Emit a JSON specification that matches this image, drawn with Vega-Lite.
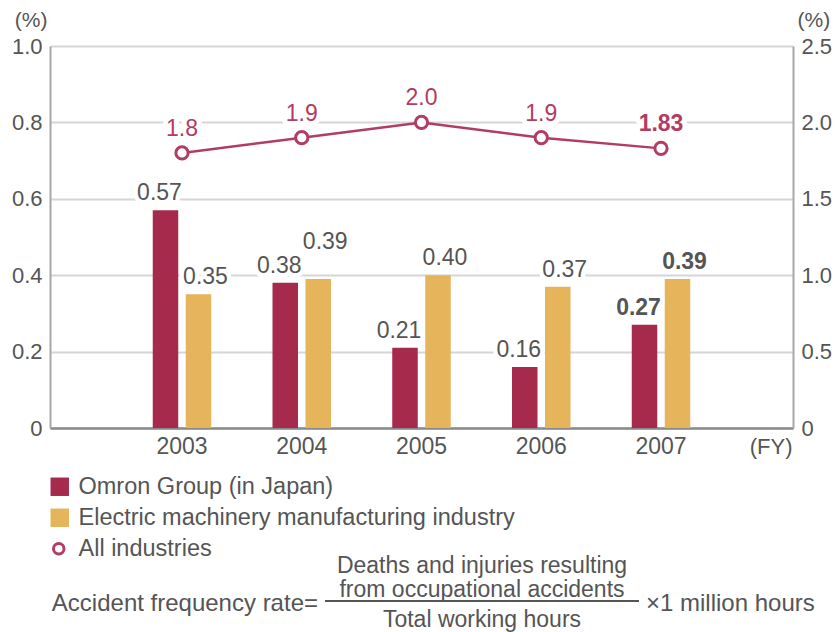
{
  "$schema": "https://vega.github.io/schema/vega-lite/v6.json",
  "background": "white",
  "padding": {"left": 11, "top": 9, "right": 2, "bottom": 2},
  "config": {
    "view": {"stroke": null},
    "font": "Liberation Sans",
    "text": {"font": "Liberation Sans"}
  },
  "datasets": {
    "bars": [
      {"year": "2003", "series": "Omron Group (in Japan)", "value": 0.57},
      {"year": "2003", "series": "Electric machinery manufacturing industry", "value": 0.35},
      {"year": "2004", "series": "Omron Group (in Japan)", "value": 0.38},
      {"year": "2004", "series": "Electric machinery manufacturing industry", "value": 0.39},
      {"year": "2005", "series": "Omron Group (in Japan)", "value": 0.21},
      {"year": "2005", "series": "Electric machinery manufacturing industry", "value": 0.40},
      {"year": "2006", "series": "Omron Group (in Japan)", "value": 0.16},
      {"year": "2006", "series": "Electric machinery manufacturing industry", "value": 0.37},
      {"year": "2007", "series": "Omron Group (in Japan)", "value": 0.27},
      {"year": "2007", "series": "Electric machinery manufacturing industry", "value": 0.39}
    ],
    "line": [
      {"year": "2003", "series": "All industries", "value": 1.8, "label": "1.8"},
      {"year": "2004", "series": "All industries", "value": 1.9, "label": "1.9"},
      {"year": "2005", "series": "All industries", "value": 2.0, "label": "2.0"},
      {"year": "2006", "series": "All industries", "value": 1.9, "label": "1.9"},
      {"year": "2007", "series": "All industries", "value": 1.83, "label": "1.83"}
    ],
    "formula": [
      {"col": "lhs", "part": "lhs", "text": "Accident frequency rate="},
      {"col": "frac", "part": "num", "text": "Deaths and injuries resulting\nfrom occupational accidents"},
      {"col": "frac", "part": "bar", "text": ""},
      {"col": "frac", "part": "den", "text": "Total working hours"},
      {"col": "rhs", "part": "rhs", "text": "×1 million hours"}
    ]
  },
  "vconcat": [
    {
      "width": 743,
      "height": 382,
      "layer": [
        {
          "data": {"name": "bars"},
          "encoding": {
            "x": {
              "field": "year", "type": "nominal",
              "scale": {"paddingInner": 0.5115, "paddingOuter": 0.858},
              "axis": {
                "title": "(FY)", "titleX": 742, "titleY": 18, "titleAlign": "right", "titleAnchor": null,
                "titleBaseline": "middle", "titleFontSize": 22, "titleFontWeight": "normal", "titleColor": "#555",
                "labelFontSize": 23, "labelColor": "#555", "labelAngle": 0, "labelPadding": 7,
                "ticks": false, "domainColor": "#8a8a8a", "domainWidth": 2.5, "grid": false
              }
            },
            "xOffset": {
              "field": "series", "type": "nominal",
              "scale": {"domain": ["Omron Group (in Japan)", "Electric machinery manufacturing industry"], "paddingInner": 0.227}
            },
            "y": {
              "field": "value", "type": "quantitative",
              "scale": {"domain": [0, 1], "nice": false},
              "axis": {
                "title": "(%)", "titleAngle": 0, "titleX": -3, "titleY": -26, "titleAlign": "right",
                "titleBaseline": "middle", "titleFontSize": 21, "titleFontWeight": "normal", "titleColor": "#555",
                "values": [0, 0.2, 0.4, 0.6, 0.8, 1.0],
                "labelExpr": "datum.value === 0 ? '0' : format(datum.value, '.1f')",
                "labelFontSize": 22, "labelColor": "#555", "labelPadding": 8,
                "ticks": false, "domainColor": "#a8a8a8", "domainWidth": 2,
                "grid": true, "gridColor": "#d6d6d6", "gridWidth": 2
              }
            }
          },
          "layer": [
            {
              "mark": {"type": "bar"},
              "encoding": {
                "color": {
                  "field": "series", "type": "nominal",
                  "scale": {
                    "domain": ["Omron Group (in Japan)", "Electric machinery manufacturing industry"],
                    "range": ["#A52A4B", "#E6B45A"]
                  },
                  "legend": {
                    "title": null, "orient": "none", "legendX": -2, "legendY": 429, "direction": "vertical",
                    "labelFontSize": 23.5, "labelColor": "#555", "labelFont": "Liberation Sans", "labelLimit": 800,
                    "labelOffset": 7, "rowPadding": 6, "padding": 0, "symbolType": "square", "symbolSize": 340,
                    "symbolStrokeWidth": 0
                  }
                }
              }
            },
            {
              "mark": {
                "type": "text", "fontSize": 23, "baseline": "middle", "stroke": "white", "strokeWidth": 9,
                "strokeJoin": "round", "fill": "white",
                "dx": {"expr": "datum.series === 'Omron Group (in Japan)' ? -6 : 7"},
                "dy": {"expr": "(datum.year === '2004' && datum.series !== 'Omron Group (in Japan)') ? -37 : -17"},
                "fontWeight": {"expr": "datum.year === '2007' ? 'bold' : 'normal'"}
              },
              "encoding": {"text": {"field": "value", "type": "quantitative", "format": ".2f"}}
            },
            {
              "mark": {
                "type": "text", "fontSize": 23, "baseline": "middle", "fill": "#555",
                "dx": {"expr": "datum.series === 'Omron Group (in Japan)' ? -6 : 7"},
                "dy": {"expr": "(datum.year === '2004' && datum.series !== 'Omron Group (in Japan)') ? -37 : -17"},
                "fontWeight": {"expr": "datum.year === '2007' ? 'bold' : 'normal'"}
              },
              "encoding": {"text": {"field": "value", "type": "quantitative", "format": ".2f"}}
            }
          ]
        },
        {
          "data": {"name": "line"},
          "encoding": {
            "x": {"field": "year", "type": "nominal"},
            "y": {
              "field": "value", "type": "quantitative",
              "scale": {"domain": [0, 2.5], "nice": false},
              "axis": {
                "orient": "right",
                "title": "(%)", "titleAngle": 0, "titleX": 4, "titleY": -26, "titleAlign": "left",
                "titleBaseline": "middle", "titleFontSize": 21, "titleFontWeight": "normal", "titleColor": "#555",
                "values": [0, 0.5, 1.0, 1.5, 2.0, 2.5],
                "labelExpr": "datum.value === 0 ? '0' : format(datum.value, '.1f')",
                "labelFontSize": 22, "labelColor": "#555", "labelPadding": 8,
                "ticks": false, "domainColor": "#a8a8a8", "domainWidth": 2, "grid": false
              }
            }
          },
          "layer": [
            {"mark": {"type": "line", "color": "#B23C62", "strokeWidth": 2.5}},
            {
              "mark": {"type": "point", "shape": "circle", "size": 150, "strokeWidth": 3, "fill": "white", "opacity": 1, "filled": false},
              "encoding": {
                "stroke": {
                  "field": "series", "type": "nominal",
                  "scale": {"domain": ["All industries"], "range": ["#B23C62"]},
                  "legend": {
                    "title": null, "orient": "none", "legendX": -3, "legendY": 491, "direction": "vertical",
                    "labelFontSize": 23.5, "labelColor": "#555", "labelFont": "Liberation Sans", "labelLimit": 800,
                    "labelOffset": 8, "padding": 0, "symbolType": "circle", "symbolSize": 110,
                    "symbolStrokeWidth": 3, "symbolFillColor": "#ffffff", "symbolStrokeColor": "#B23C62"
                  }
                }
              }
            },
            {
              "mark": {
                "type": "text", "fontSize": 23, "baseline": "middle", "dy": -24, "stroke": "white", "strokeWidth": 10,
                "strokeJoin": "round", "fill": "white",
                "fontWeight": {"expr": "datum.year === '2007' ? 'bold' : 'normal'"}
              },
              "encoding": {"text": {"field": "label"}}
            },
            {
              "mark": {
                "type": "text", "fontSize": 23, "baseline": "middle", "dy": -24, "fill": "#B23C62",
                "fontWeight": {"expr": "datum.year === '2007' ? 'bold' : 'normal'"}
              },
              "encoding": {"text": {"field": "label"}}
            }
          ]
        }
      ],
      "resolve": {"scale": {"y": "independent"}, "axis": {"y": "independent"}}
    },
    {
      "width": 743,
      "height": 88,
      "data": {"name": "formula"},
      "encoding": {
        "x": {
          "field": "col", "type": "nominal",
          "scale": {"type": "point", "domain": ["lhs", "frac", "rhs"], "range": [268, 596], "padding": 0},
          "axis": null
        }
      },
      "layer": [
        {
          "transform": [{"filter": "datum.part === 'lhs'"}],
          "mark": {"type": "text", "fontSize": 24, "fill": "#555", "align": "right", "baseline": "middle"},
          "encoding": {"text": {"field": "text"}}
        },
        {
          "transform": [{"filter": "datum.part === 'rhs'"}],
          "mark": {"type": "text", "fontSize": 24, "fill": "#555", "align": "left", "baseline": "middle"},
          "encoding": {"text": {"field": "text"}}
        },
        {
          "transform": [{"filter": "datum.part === 'num'"}],
          "mark": {"type": "text", "fontSize": 23, "fill": "#555", "align": "center", "baseline": "alphabetic", "lineBreak": "\n", "lineHeight": 24, "dy": -31},
          "encoding": {"text": {"field": "text"}}
        },
        {
          "transform": [{"filter": "datum.part === 'den'"}],
          "mark": {"type": "text", "fontSize": 23, "fill": "#555", "align": "center", "baseline": "middle", "dy": 16},
          "encoding": {"text": {"field": "text"}}
        },
        {
          "transform": [{"filter": "datum.part === 'bar'"}],
          "mark": {"type": "tick", "orient": "horizontal", "size": 314, "thickness": 2, "color": "#555", "opacity": 1, "yOffset": -3},
          "encoding": {}
        }
      ]
    }
  ],
  "spacing": 132,
  "bounds": "flush"
}
